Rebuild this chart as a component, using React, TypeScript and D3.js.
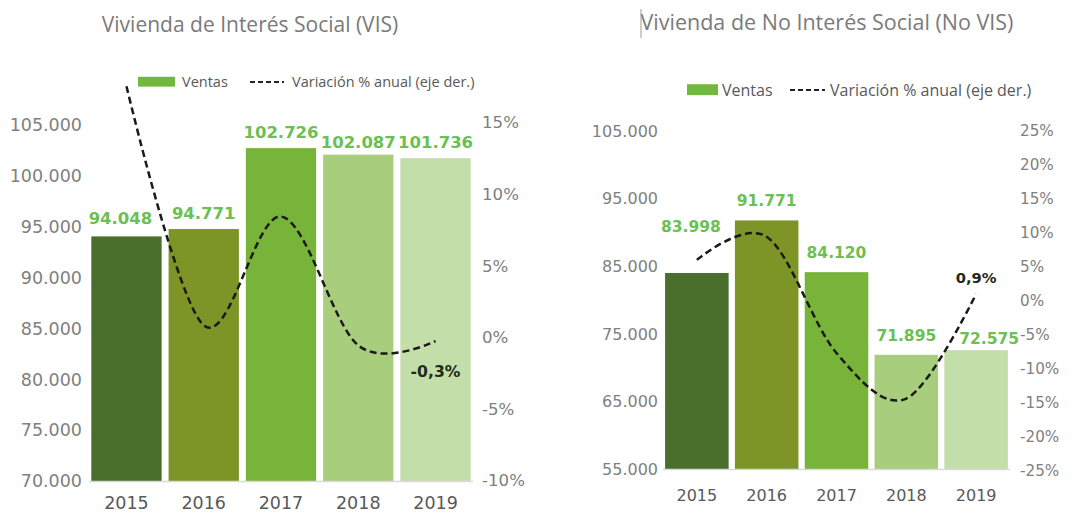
import React, { useEffect } from "react";
import * as d3 from "d3";

// Ventas de vivienda (unidades) y variación % anual
const years = ["2015", "2016", "2017", "2018", "2019"];
const visSales = [94048, 94771, 102726, 102087, 101736];
const visGrowth = [17.5, 0.8, 8.4, -0.6, -0.3];
const noVisSales = [83998, 91771, 84120, 71895, 72575];
const noVisGrowth = [5.9, 9.3, -7.8, -14.5, 0.9];

const visSalesTicks = [70000, 75000, 80000, 85000, 90000, 95000, 100000, 105000];
const visGrowthTicks = [-10, -5, 0, 5, 10, 15];
const noVisSalesTicks = [55000, 65000, 75000, 85000, 95000, 105000];
const noVisGrowthTicks = [-25, -20, -15, -10, -5, 0, 5, 10, 15, 20, 25];

const barColors = ["#4a6e2c", "#7d9426", "#78b33a", "#a8cd7c", "#c4deaa"];
const labelGreen = "#6cbf52";
const axisGrey = "#808080";

const es = d3.formatLocale({ decimal: ",", thousands: ".", grouping: [3], currency: ["$", ""], minus: "-" });
const fmtInt = es.format(",.0f");
const fmtPct = (v: number) => es.format(".1f")(v) + "%";

type Legend = { y: number; fs: number; sx: number; sw: number; ventasX: number; d1: number; d2: number; textX: number };

type PanelProps = {
  title: string;
  titleX: number;
  titleY: number;
  titleFs: number;
  sales: number[];
  growth: number[];
  salesTicks: number[];
  growthTicks: number[];
  x0: number;
  x1: number;
  yBottom: number;
  yTop: number;
  gBottom: number;
  gTop: number;
  fs: number;
  valueFs: number;
  yearY: number;
  leftLabelX: number;
  rightLabelX: number;
  nudges: [number, number][];
  endLabelDy: number;
  legend: Legend;
};

function Panel(p: PanelProps) {
  const x = d3.scaleBand().domain(years).range([p.x0, p.x1]).paddingInner(0.09).paddingOuter(0.03);
  const ySales = d3
    .scaleLinear()
    .domain([p.salesTicks[0], p.salesTicks[p.salesTicks.length - 1]])
    .range([p.yBottom, p.yTop]);
  const yGrowth = d3
    .scaleLinear()
    .domain([p.growthTicks[0], p.growthTicks[p.growthTicks.length - 1]])
    .range([p.gBottom, p.gTop]);

  const line = d3
    .line<number>()
    .x((_, i) => (x(years[i]) as number) + x.bandwidth() / 2)
    .y((d) => yGrowth(d))
    .curve(d3.curveCardinal.tension(0));

  const last = p.growth.length - 1;
  const lastX = (x(years[last]) as number) + x.bandwidth() / 2;
  const lg = p.legend;

  return (
    <g>
      <text x={p.titleX} y={p.titleY} textAnchor="middle" fontFamily="Open Sans" fontSize={p.titleFs} fill="#7a7a7a">
        {p.title}
      </text>

      {/* legend */}
      <rect x={lg.sx} y={lg.y - lg.fs * 0.36} width={lg.sw} height={lg.fs * 0.68} fill="#72b83e" />
      <text x={lg.ventasX} y={lg.y + lg.fs * 0.35} fontFamily="Open Sans" fontSize={lg.fs} fill="#595959">
        Ventas
      </text>
      <line x1={lg.d1} x2={lg.d2} y1={lg.y} y2={lg.y} stroke="#222" strokeWidth={2} strokeDasharray="5,3" />
      <text x={lg.textX} y={lg.y + lg.fs * 0.35} fontFamily="Open Sans" fontSize={lg.fs} fill="#595959">
        Variación % anual (eje der.)
      </text>

      {/* left axis */}
      {p.salesTicks.map((t) => (
        <text key={t} x={p.leftLabelX} y={ySales(t) + p.fs * 0.36} textAnchor="end" fontFamily="DejaVu Sans" fontSize={p.fs} fill={axisGrey}>
          {fmtInt(t)}
        </text>
      ))}
      {/* right axis */}
      {p.growthTicks.map((t) => (
        <text key={t} x={p.rightLabelX} y={yGrowth(t) + p.fs * 0.36} fontFamily="DejaVu Sans" fontSize={p.fs * 0.95} fill={axisGrey}>
          {t + "%"}
        </text>
      ))}

      {/* bars */}
      {p.sales.map((v, i) => (
        <rect
          key={i}
          x={x(years[i])}
          y={ySales(v)}
          width={x.bandwidth()}
          height={p.yBottom - ySales(v)}
          fill={barColors[i]}
        />
      ))}
      <line x1={p.x0} x2={p.x1} y1={p.yBottom + 0.5} y2={p.yBottom + 0.5} stroke="#d9d9d9" strokeWidth={1.5} />

      {/* year labels */}
      {years.map((yr) => (
        <text
          key={yr}
          x={(x(yr) as number) + x.bandwidth() / 2}
          y={p.yearY}
          textAnchor="middle"
          fontFamily="DejaVu Sans"
          fontSize={p.fs}
          fill="#595959"
        >
          {yr}
        </text>
      ))}

      {/* value labels */}
      {p.sales.map((v, i) => (
        <text
          key={i}
          x={(x(years[i]) as number) + x.bandwidth() / 2 + p.nudges[i][0]}
          y={ySales(v) + p.nudges[i][1]}
          textAnchor="middle"
          fontFamily="DejaVu Sans"
          fontWeight="bold"
          fontSize={p.valueFs}
          fill={labelGreen}
        >
          {fmtInt(v)}
        </text>
      ))}

      {/* growth line */}
      <path d={line(p.growth) as string} fill="none" stroke="#1a1a1a" strokeWidth={2.5} strokeDasharray="7,4" />
      <text
        x={lastX}
        y={yGrowth(p.growth[last]) + p.endLabelDy}
        textAnchor="middle"
        fontFamily="DejaVu Sans"
        fontWeight="bold"
        fontSize={p.valueFs * 0.95}
        fill="#1f2a1a"
      >
        {fmtPct(p.growth[last])}
      </text>
    </g>
  );
}

export default function App() {
  useEffect(() => {
    document.body.style.margin = "0";
  }, []);

  return (
    <svg width={1078} height={514} style={{ display: "block", background: "#fff" }}>
      <Panel
        title="Vivienda de Interés Social (VIS)"
        titleX={250}
        titleY={32}
        titleFs={21}
        sales={visSales}
        growth={visGrowth}
        salesTicks={visSalesTicks}
        growthTicks={visGrowthTicks}
        x0={89}
        x1={473}
        yBottom={481}
        yTop={125}
        gBottom={480}
        gTop={122}
        fs={17.5}
        valueFs={16.5}
        yearY={509}
        leftLabelX={82}
        rightLabelX={482}
        nudges={[[-6, -12], [0, -10], [0, -10], [0, -7], [0, -10]]}
        endLabelDy={36}
        legend={{ y: 82, fs: 14.5, sx: 138, sw: 37, ventasX: 182, d1: 250, d2: 284, textX: 292 }}
      />
      <Panel
        title="Vivienda de No Interés Social (No VIS)"
        titleX={827}
        titleY={30}
        titleFs={21.5}
        sales={noVisSales}
        growth={noVisGrowth}
        salesTicks={noVisSalesTicks}
        growthTicks={noVisGrowthTicks}
        x0={663}
        x1={1010}
        yBottom={469}
        yTop={131}
        gBottom={470}
        gTop={130}
        fs={16}
        valueFs={15.5}
        yearY={501}
        leftLabelX={658}
        rightLabelX={1020}
        nudges={[[-6, -41], [0, -14], [0, -14], [0, -14], [13, -6]]}
        endLabelDy={-11}
        legend={{ y: 90, fs: 16, sx: 687, sw: 31, ventasX: 722, d1: 790, d2: 825, textX: 830 }}
      />
      {/* text cursor artifact before the second title */}
      <line x1={641} x2={641} y1={9} y2={38} stroke="#9a9a9a" strokeWidth={1} />
    </svg>
  );
}
